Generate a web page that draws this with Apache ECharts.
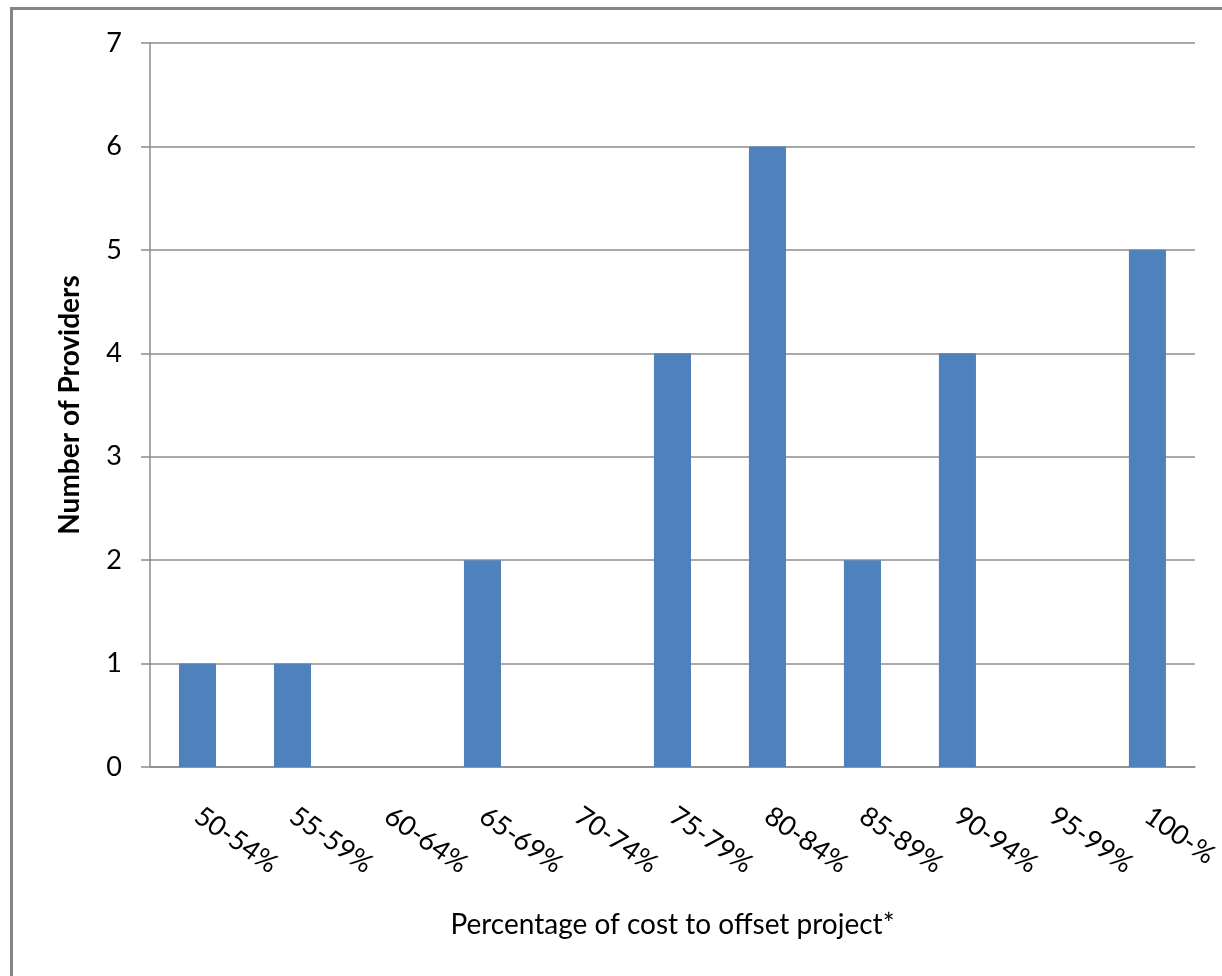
<!DOCTYPE html>
<html>
<head>
<meta charset="utf-8">
<script src="https://cdn.jsdelivr.net/npm/echarts@6/dist/echarts.min.js"></script>
<style>
  html, body { margin: 0; padding: 0; background: #fff; }
  /* only the left and top edges of the chart frame are visible in the crop */
  #frame {
    position: absolute; left: 10px; top: 7px; right: 0; bottom: 0;
    border-left: 3px solid #868686; border-top: 3px solid #868686;
  }
  #chart { position: absolute; left: 0; top: 0; width: 1222px; height: 976px; }
</style>
</head>
<body>
<div id="frame"></div>
<div id="chart"></div>
<script>
// categories (cost share buckets)
const categories = ['50-54%', '55-59%', '60-64%', '65-69%', '70-74%', '75-79%',
  '80-84%', '85-89%', '90-94%', '95-99%', '100-%']
// number of providers per bucket
const providers = [1, 1, 0, 2, 0, 4, 6, 2, 4, 0, 5]

const chart = echarts.init(document.getElementById('chart'))
const fontFamily = 'Lato, "Open Sans", sans-serif'
const lineColor = '#8c8c8c'

chart.setOption({
  animation: false,
  grid: { left: 150, right: 26, top: 43, bottom: 209 },
  xAxis: {
    type: 'category',
    data: categories,
    name: 'Percentage of cost to offset project*',
    nameLocation: 'middle',
    nameGap: 144,
    nameTextStyle: { fontFamily, fontSize: 28, color: '#000' },
    axisLine: { lineStyle: { color: lineColor, width: 1.5 } },
    axisTick: { length: 9, lineStyle: { color: lineColor, width: 1.5 } },
    axisLabel: {
      rotate: -35,
      margin: 46,
      interval: 0,
      fontFamily, fontSize: 27, color: '#000'
    }
  },
  yAxis: {
    type: 'value',
    min: 0,
    max: 7,
    interval: 1,
    name: 'Number of Providers',
    nameLocation: 'middle',
    nameGap: 66,
    nameTextStyle: { fontFamily, fontSize: 28, fontWeight: 'bold', color: '#000' },
    axisLine: { show: true, lineStyle: { color: lineColor, width: 1.5 } },
    axisTick: { show: true, length: 9, lineStyle: { color: lineColor, width: 1.5 } },
    axisLabel: { margin: 28, fontFamily, fontSize: 27, color: '#000' },
    splitLine: { lineStyle: { color: lineColor, width: 1.5 } }
  },
  series: [{
    type: 'bar',
    data: providers,
    barWidth: '39%',
    itemStyle: { color: '#4f81bd' }
  }]
})
</script>
</body>
</html>
